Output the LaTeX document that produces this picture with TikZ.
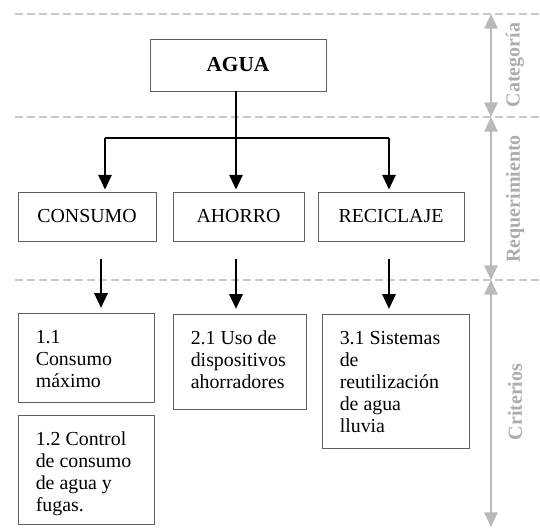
\documentclass[tikz,border=0pt]{standalone}
\usepackage{fontspec}
\setmainfont{Liberation Serif}
\usetikzlibrary{arrows.meta}
\definecolor{sepgray}{RGB}{200,200,200}
\definecolor{axgray}{RGB}{185,185,185}
\definecolor{labgray}{RGB}{172,172,172}
\definecolor{boxgray}{RGB}{95,95,95}
\newcommand{\topstrut}{\rule{0pt}{11pt}}
\begin{document}
\begin{tikzpicture}[x=0.75pt,y=-0.75pt,
  box/.style={draw=boxgray,line width=0.7pt,inner sep=0pt,font=\fontsize{14.9}{16.5}\selectfont},
  crittext/.style={anchor=north west,inner sep=0pt,align=left,font=\fontsize{14.9}{16.5}\selectfont},
  conn/.style={line width=1.4pt,black},
  arr/.style={conn,-{Triangle[width=10pt,length=11pt]}},
  sepline/.style={sepgray,dash pattern=on 6pt off 3pt,line width=1.3pt},
  axis/.style={axgray,line width=1.4pt,{Triangle[width=10pt,length=11pt]}-{Triangle[width=10pt,length=11pt]}},
  lab/.style={labgray,font=\bfseries\fontsize{15}{17}\selectfont,rotate=90}
]
\useasboundingbox (0,0) rectangle (540,528);
% separators
\coordinate (s1l) at (15,14);  \coordinate (s1r) at (540,14);
\coordinate (s2l) at (15,117); \coordinate (s2r) at (540,117);
\coordinate (s3l) at (15,280); \coordinate (s3r) at (540,280);
\draw[sepline] (s1l) -- (s1r);
\draw[sepline] (s2l) -- (s2r);
\draw[sepline] (s3l) -- (s3r);
% side axis
\coordinate (a0) at (491,14);
\coordinate (a1) at (491,117);
\coordinate (a2) at (491,280);
\coordinate (a3) at (491,527);
\draw[axis] (a0) -- (a1);
\draw[axis] (a1) -- (a2);
\draw[axis] (a2) -- (a3);
\node[lab] (lcat) at (515,65) {Categoría};
\node[lab] (lreq) at (515,199) {Requerimiento};
\node[lab] (lcri) at (515,402) {Criterios};
% top box
\node[box,minimum width=132pt,minimum height=39pt,font=\bfseries\fontsize{16}{18}\selectfont] (agua) at (238,65) {AGUA};
% requirement boxes
\node[box,minimum width=103.5pt,minimum height=36.75pt] (cons) at (87,216.5) {CONSUMO};
\node[box,minimum width=98.25pt,minimum height=36.75pt] (aho) at (238.5,216.5) {AHORRO};
\node[box,minimum width=109.5pt,minimum height=36.75pt] (rec) at (391,216.5) {RECICLAJE};
% connectors top
\coordinate (hub) at (236,138);
\coordinate (hl) at (105,138);
\coordinate (hr) at (389,138);
\draw[conn] (agua.south -| hub) -- (hub);
\draw[conn] (hl) -- (hr);
\draw[arr] (hl) -- ([yshift=1.5pt]cons.north -| hl);
\draw[arr] (hub) -- ([yshift=1.5pt]aho.north -| hub);
\draw[arr] (hr) -- ([yshift=1.5pt]rec.north -| hr);
% criteria boxes
\node[box,minimum width=102pt,minimum height=66.75pt] (c11) at (86,357.5) {};
\node[box,minimum width=99.75pt,minimum height=71.25pt] (c21) at (239.5,361.5) {};
\node[box,minimum width=110.25pt,minimum height=100.5pt] (c31) at (395.5,381) {};
\node[box,minimum width=102pt,minimum height=81.75pt] (c12) at (86,469.5) {};
\node[crittext] (t11) at ([xshift=13.5pt,yshift=-12pt]c11.north west) {\topstrut 1.1\\Consumo\\máximo};
\node[crittext] (t21) at ([xshift=13.5pt,yshift=-12pt]c21.north west) {\topstrut 2.1 Uso de\\dispositivos\\ahorradores};
\node[crittext] (t31) at ([xshift=13.5pt,yshift=-12pt]c31.north west) {\topstrut 3.1 Sistemas\\de\\reutilización\\de agua\\lluvia};
\node[crittext] (t12) at ([xshift=13.5pt,yshift=-12pt]c12.north west) {\topstrut 1.2 Control\\de consumo\\de agua y\\fugas.};
% lower arrows
\coordinate (d1) at (101,259);
\coordinate (d2) at (236,259);
\coordinate (d3) at (389,259);
\draw[arr] (d1) -- ([yshift=3.5pt]c11.north -| d1);
\draw[arr] (d2) -- ([yshift=3.5pt]c21.north -| d2);
\draw[arr] (d3) -- ([yshift=3.5pt]c31.north -| d3);
\end{tikzpicture}
\end{document}
